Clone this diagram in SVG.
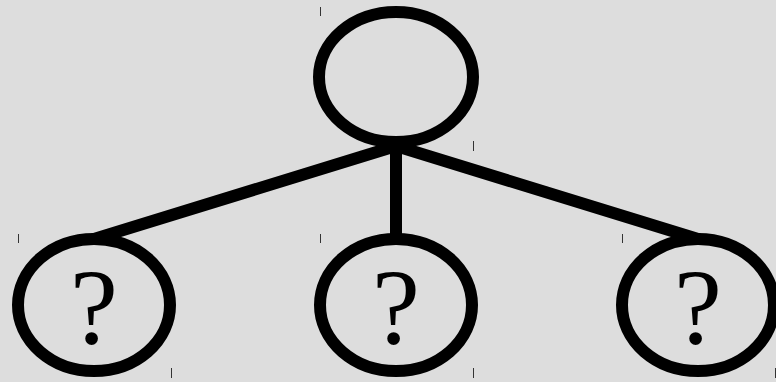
<svg xmlns="http://www.w3.org/2000/svg" width="776" height="382" viewBox="0 0 776 382">
<style>
.node{fill:none;stroke:#000;stroke-width:12}
.edge{stroke:#000;stroke-width:12;fill:none;stroke-linecap:round}
.q{font-family:"Liberation Serif","Times New Roman",serif;font-size:108px;fill:#000;text-anchor:middle}
.tick{stroke:#333;stroke-width:1}
</style>
<rect width="776" height="382" fill="#dddddd"/>
<g id="connectors">
<line class="edge" x1="396" y1="146" x2="94" y2="239"/>
<line class="edge" x1="396" y1="146" x2="396" y2="239"/>
<line class="edge" x1="396" y1="146" x2="698" y2="239"/>
</g>
<g id="root">
<ellipse class="node" cx="396" cy="77" rx="77" ry="65"/>
<line class="tick" x1="320.5" y1="7" x2="320.5" y2="16"/>
<line class="tick" x1="473.5" y1="141" x2="473.5" y2="151"/>
</g>
<g id="child1">
<ellipse class="node" cx="94" cy="305" rx="76" ry="66"/>
<text class="q" x="94" y="343">?</text>
<line class="tick" x1="18.5" y1="234" x2="18.5" y2="243"/>
<line class="tick" x1="171.5" y1="368" x2="171.5" y2="378"/>
</g>
<g id="child2">
<ellipse class="node" cx="396" cy="305" rx="76" ry="66"/>
<text class="q" x="396" y="343">?</text>
<line class="tick" x1="320.5" y1="234" x2="320.5" y2="243"/>
<line class="tick" x1="473.5" y1="368" x2="473.5" y2="378"/>
</g>
<g id="child3">
<ellipse class="node" cx="698" cy="305" rx="76" ry="66"/>
<text class="q" x="698" y="343">?</text>
<line class="tick" x1="622.5" y1="234" x2="622.5" y2="243"/>
<line class="tick" x1="775.5" y1="368" x2="775.5" y2="378"/>
</g>
</svg>
